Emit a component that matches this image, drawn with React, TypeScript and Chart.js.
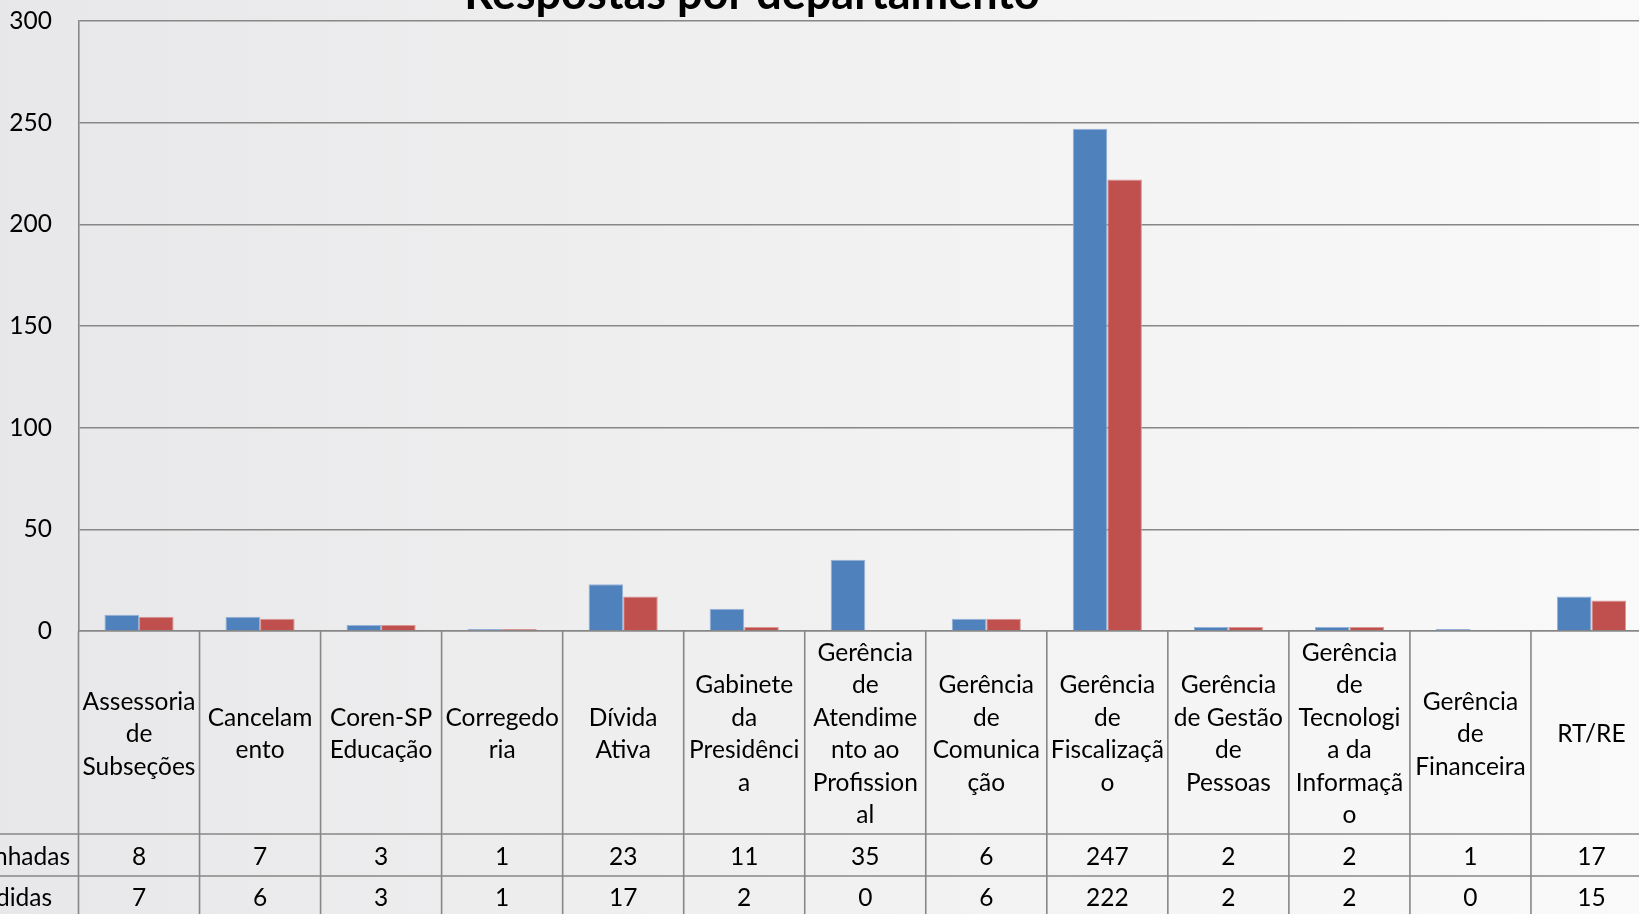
import React, { useEffect, useRef } from "react";
import { Chart, registerables } from "chart.js";

Chart.register(...registerables);

// ---------------- data ----------------
const chartTitle = "Respostas por departamento";

const categories: string[][] = [
  ["Assessoria", "de", "Subseções"],
  ["Cancelam", "ento"],
  ["Coren-SP", "Educação"],
  ["Corregedo", "ria"],
  ["Dívida", "Ativa"],
  ["Gabinete", "da", "Presidênci", "a"],
  ["Gerência", "de", "Atendime", "nto ao", "Profission", "al"],
  ["Gerência", "de", "Comunica", "ção"],
  ["Gerência", "de", "Fiscalizaçã", "o"],
  ["Gerência", "de Gestão", "de", "Pessoas"],
  ["Gerência", "de", "Tecnologi", "a da", "Informaçã", "o"],
  ["Gerência", "de", "Financeira"],
  ["RT/RE"],
];

const seriesNames = ["Encaminhadas", "Respondidas"];
const encaminhadas = [8, 7, 3, 1, 23, 11, 35, 6, 247, 2, 2, 1, 17];
const respondidas = [7, 6, 3, 1, 17, 2, 0, 6, 222, 2, 2, 0, 15];

const yMin = 0;
const yMax = 300;
const yStep = 50;

// ---------------- style ----------------
const BLUE = "#4f81bd";
const RED = "#c0504d";
const BLUE_EDGE = "#95b3d7";
const RED_EDGE = "#d99694";
const LINE = "#878787";
const FONT = "Lato, 'Open Sans', sans-serif";
const TEXT_SIZE = 24.5;

const CANVAS_LEFT = -148;
const CANVAS_TOP = -60;
const CANVAS_W = 1821;
const CANVAS_H = 990;
const PAD_RIGHT = 21;
const Y_AXIS_W = 226.5;
const X_AXIS_H = 203;
const ROW1_H = 42;
const ROW2_H = 41;
const ROW_TEXT_SHIFT = 2;

const dataTablePlugin = {
  id: "dataTable",
  beforeDraw(chart: any) {
    const ctx = chart.ctx as CanvasRenderingContext2D;
    const g = ctx.createLinearGradient(0, 0, chart.width, 0);
    g.addColorStop(0, "#e6e6e8");
    g.addColorStop(1, "#fafafa");
    ctx.save();
    ctx.fillStyle = g;
    ctx.fillRect(0, 0, chart.width, chart.height);
    ctx.restore();
  },
  afterDraw(chart: any) {
    const ctx = chart.ctx as CanvasRenderingContext2D;
    const xs = chart.scales.x;
    const n = categories.length;
    const half = (xs.getPixelForValue(1) - xs.getPixelForValue(0)) / 2;
    const top = xs.top;
    const catBottom = xs.bottom;
    const r1 = catBottom + ROW1_H;
    const r2 = r1 + ROW2_H;

    ctx.save();
    ctx.font = `${TEXT_SIZE}px ${FONT}`;
    const labelW = ctx.measureText(seriesNames[0]).width;
    const labelStart = xs.left - 8.5 - labelW;
    const keySize = 13;
    const keyLeft = labelStart - keySize - 8;
    const tableLeft = keyLeft - 10;

    ctx.strokeStyle = LINE;
    ctx.lineWidth = 1.6;
    const line = (x1: number, y1: number, x2: number, y2: number) => {
      ctx.beginPath();
      ctx.moveTo(x1, y1);
      ctx.lineTo(x2, y2);
      ctx.stroke();
    };
    for (let i = 0; i <= n; i++) {
      const px = i < n ? xs.getPixelForValue(i) - half : xs.getPixelForValue(n - 1) + half;
      line(px, top, px, r2 + 2);
    }
    line(tableLeft, top, tableLeft, r2 + 2);
    [catBottom, r1, r2].forEach((y) => line(tableLeft, y, xs.right + half, y));

    ctx.fillStyle = "#000";
    ctx.textAlign = "center";
    ctx.textBaseline = "middle";
    const rows = [encaminhadas, respondidas];
    const centers = [catBottom + ROW1_H / 2 + ROW_TEXT_SHIFT, r1 + ROW2_H / 2 + ROW_TEXT_SHIFT];
    rows.forEach((vals, ri) => {
      vals.forEach((v, i) => {
        ctx.fillText(String(v), xs.getPixelForValue(i), centers[ri]);
      });
    });

    ctx.textAlign = "left";
    const colors = [BLUE, RED];
    seriesNames.forEach((name, ri) => {
      ctx.fillStyle = colors[ri];
      ctx.fillRect(keyLeft, centers[ri] - keySize / 2, keySize, keySize);
      ctx.fillStyle = "#000";
      ctx.fillText(name, labelStart, centers[ri]);
    });
    ctx.restore();
  },
};

export default function App() {
  const ref = useRef<HTMLCanvasElement | null>(null);

  useEffect(() => {
    if (!ref.current) return;
    const chart = new Chart(ref.current, {
      type: "bar",
      data: {
        labels: categories,
        datasets: [
          {
            label: seriesNames[0],
            data: encaminhadas,
            backgroundColor: BLUE,
            borderColor: BLUE_EDGE,
            borderWidth: 1,
          },
          {
            label: seriesNames[1],
            data: respondidas,
            backgroundColor: RED,
            borderColor: RED_EDGE,
            borderWidth: 1,
          },
        ],
      },
      options: {
        responsive: false,
        animation: false,
        devicePixelRatio: 1,
        datasets: {
          bar: { categoryPercentage: 0.5714, barPercentage: 1 },
        },
        layout: { padding: { top: 27, left: 0, right: PAD_RIGHT, bottom: CANVAS_H - 691 - X_AXIS_H } },
        plugins: {
          legend: { display: false },
          tooltip: { enabled: false },
          title: {
            display: true,
            text: chartTitle,
            color: "#000",
            font: { family: FONT, size: 45, weight: "bold", lineHeight: 1.2 },
            padding: { top: 0, bottom: 0 },
          },
        },
        scales: {
          x: {
            type: "category",
            grid: { display: false, drawTicks: false },
            border: { display: true, color: LINE, width: 1.6 },
            ticks: {
              color: "#000",
              font: { family: FONT, size: TEXT_SIZE, lineHeight: 32.5 / TEXT_SIZE },
              padding: 22,
              crossAlign: "center",
              maxRotation: 0,
              minRotation: 0,
              autoSkip: false,
            },
            afterFit: (s: any) => {
              s.height = X_AXIS_H;
            },
          },
          y: {
            min: yMin,
            max: yMax,
            ticks: {
              stepSize: yStep,
              color: "#000",
              font: { family: FONT, size: TEXT_SIZE },
              padding: 26.5,
            },
            grid: { color: LINE, lineWidth: 1.4, drawTicks: false },
            border: { display: true, color: LINE, width: 1.6 },
            afterFit: (s: any) => {
              s.width = Y_AXIS_W;
            },
          },
        },
      },
      plugins: [dataTablePlugin],
    } as any);
    return () => chart.destroy();
  }, []);

  return (
    <div
      style={{
        position: "fixed",
        left: 0,
        top: 0,
        width: 1639,
        height: 914,
        overflow: "hidden",
        background: "#f0f0f0",
      }}
    >
      <div style={{ position: "absolute", left: CANVAS_LEFT, top: CANVAS_TOP, width: CANVAS_W, height: CANVAS_H }}>
        <canvas ref={ref} width={CANVAS_W} height={CANVAS_H} style={{ width: CANVAS_W, height: CANVAS_H, display: "block" }} />
      </div>
    </div>
  );
}
